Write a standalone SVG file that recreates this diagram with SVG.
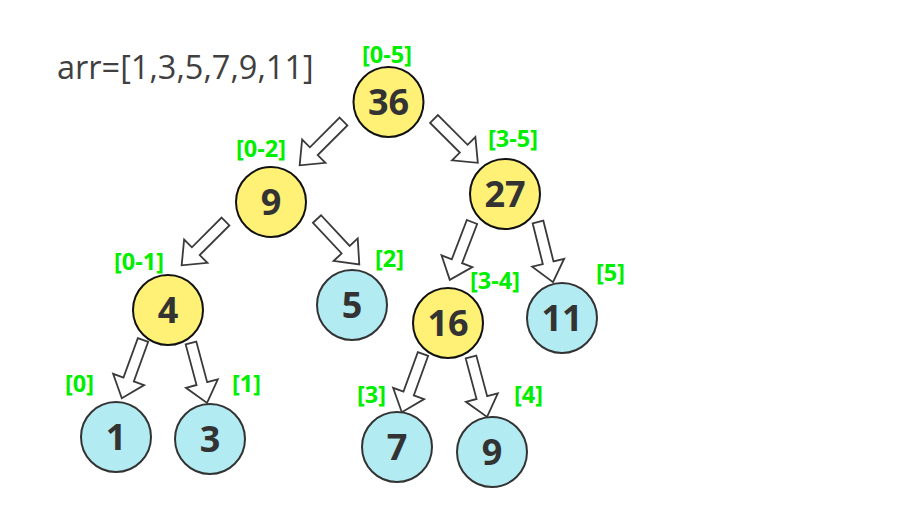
<svg xmlns="http://www.w3.org/2000/svg" width="903" height="512" viewBox="0 0 903 512">
<defs>
<style>
.y{fill:#fff176;stroke:#111;stroke-width:2}
.c{fill:#b2ebf2;stroke:#333;stroke-width:2}
.n{font-family:"Open Sans","Noto Sans",sans-serif;font-weight:bold;font-size:36px;fill:#333;text-anchor:middle}
.g{font-family:"Open Sans","Noto Sans",sans-serif;font-weight:bold;font-size:23.5px;fill:#00ee00}
.t{font-family:"Open Sans","Noto Sans",sans-serif;font-size:32.5px;fill:#404040}
.a{fill:#fff;stroke:#3a3a3a;stroke-width:1.8;stroke-linejoin:miter}
</style>
<path id="arw" d="M-5.5,0 L5.5,0 L5.5,42 L16.5,42 L0,62 L-16.5,42 L-5.5,42 Z"/>
</defs>
<rect width="903" height="512" fill="#fff"/>
<text class="t" x="57" y="79">arr=[1,3,5,7,9,11]</text>
<g id="connectors">
<use href="#arw" class="a" transform="translate(343.5,121.5) rotate(45)"/>
<use href="#arw" class="a" transform="translate(434,119) rotate(-45)"/>
<use href="#arw" class="a" transform="translate(225.5,221.5) rotate(45)"/>
<use href="#arw" class="a" transform="translate(317,219) rotate(-43)"/>
<use href="#arw" class="a" transform="translate(143,340) rotate(20)"/>
<use href="#arw" class="a" transform="translate(191,343) rotate(-15)"/>
<use href="#arw" class="a" transform="translate(472,222) rotate(21)"/>
<use href="#arw" class="a" transform="translate(538,222) rotate(-14)"/>
<use href="#arw" class="a" transform="translate(423,354) rotate(20)"/>
<use href="#arw" class="a" transform="translate(471,357) rotate(-15)"/>
</g>
<g id="n36"><circle class="y" cx="388.5" cy="102" r="35"/><text class="n" x="388.5" y="115">36</text><text class="g" x="362" y="63">[0-5]</text></g>
<g id="n9a"><circle class="y" cx="271" cy="202" r="35"/><text class="n" x="271" y="215">9</text><text class="g" x="236" y="157">[0-2]</text></g>
<g id="n27"><circle class="y" cx="505" cy="194" r="35"/><text class="n" x="505" y="207">27</text><text class="g" x="488" y="147">[3-5]</text></g>
<g id="n4"><circle class="y" cx="168" cy="310" r="35"/><text class="n" x="168" y="323">4</text><text class="g" x="114" y="270">[0-1]</text></g>
<g id="n5"><circle class="c" cx="352" cy="305" r="35"/><text class="n" x="352" y="318">5</text><text class="g" x="375" y="267">[2]</text></g>
<g id="n16"><circle class="y" cx="448" cy="323" r="35"/><text class="n" x="448" y="336">16</text><text class="g" x="470" y="289">[3-4]</text></g>
<g id="n11"><circle class="c" cx="562" cy="318" r="35"/><text class="n" x="562" y="331">11</text><text class="g" x="596" y="281">[5]</text></g>
<g id="n1"><circle class="c" cx="116" cy="437" r="35"/><text class="n" x="116" y="450">1</text><text class="g" x="65" y="392">[0]</text></g>
<g id="n3"><circle class="c" cx="210" cy="439" r="35"/><text class="n" x="210" y="452">3</text><text class="g" x="232" y="392">[1]</text></g>
<g id="n7"><circle class="c" cx="397" cy="447" r="35"/><text class="n" x="397" y="460">7</text><text class="g" x="357" y="403">[3]</text></g>
<g id="n9b"><circle class="c" cx="492" cy="452" r="35"/><text class="n" x="492" y="465">9</text><text class="g" x="514" y="403">[4]</text></g>
</svg>
